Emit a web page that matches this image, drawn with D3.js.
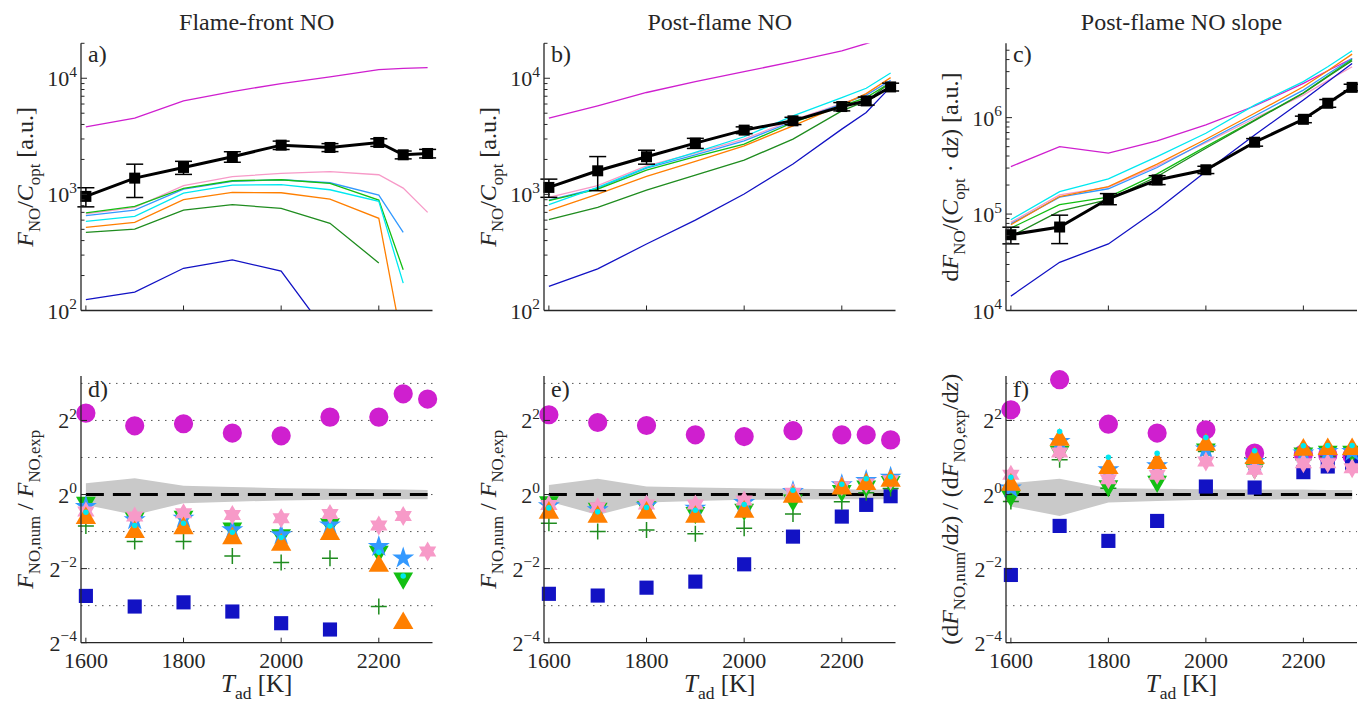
<!DOCTYPE html>
<html>
<head>
<meta charset="utf-8">
<title>NO comparison</title>
<script src="https://cdn.jsdelivr.net/npm/d3@7"></script>
<style>
  body { margin: 0; background: #fff; }
  svg text { font-family: "Liberation Serif", "DejaVu Serif", serif; fill: #262626; }
</style>
</head>
<body>
<script>
// temperatures (x values) and axis ticks
const temps = [1600, 1700, 1800, 1900, 2000, 2100, 2200, 2250, 2300];
const xTicks = [1600, 1800, 2000, 2200];
const titles = ["Flame-front NO", "Post-flame NO", "Post-flame NO slope"];
const letters = ["a)", "b)", "c)", "d)", "e)", "f)"];
const keys = ["mag", "pink", "dblue", "green", "cyan", "orange", "dgreen", "blue"];

// experiment (black squares + error bars)
const frontExp = [961, 1380, 1706, 2110, 2655, 2535, 2800, 2192, 2250];
const frontErr = [180, 440, 220, 220, 220, 200, 210, 170, 190];
const postExp = [1148, 1596, 2110, 2762, 3575, 4300, 5707, 6380, 8420];
const postErr = [205, 520, 290, 275, 240, 310, 470, 510, 650];
const slopeExp = [61100, 73400, 144000, 226000, 288000, 556000, 961000, 1410000, 2060000];
const slopeErr = [12000, 24000, 19000, 24000, 25000, 50000, 75000, 130000, 160000];

// simulated curves, top row
const frontLines = {
  mag:    [3820, 4530, 6380, 7680, 9000, 10270, 11870, 12150, 12350],
  pink:   [678, 773, 1188, 1420, 1517, 1568, 1476, 1133, 700],
  dblue:  [656, 733, 1111, 1295, 1337, 1259, 986, 471, null],
  green:  [692, 789, 1127, 1310, 1337, 1244, 894, 224, null],
  cyan:   [586, 647, 1026, 1202, 1211, 1096, 871, 172, null],
  orange: [520, 574, 900, 1040, 1033, 912, 622, 48, null],
  dgreen: [471, 503, 733, 815, 758, 563, 257, null, null],
  blue:   [124, 144, 231, 273, 218, 59, null, null, null]
};
const postLines = {
  mag:    [4530, 5780, 7540, 9360, 11400, 13900, 17200, 19900, 23000],
  pink:   [942, 1188, 1762, 2265, 2995, 4355, 6050, 7200, 9480],
  dblue:  [894, 1133, 1683, 2192, 2893, 4243, 5980, 7145, 9600],
  green:  [883, 1111, 1618, 2110, 2710, 4160, 5780, 6820, 9180],
  cyan:   [815, 1148, 1706, 2296, 3135, 4742, 6820, 8200, 11100],
  orange: [724, 1007, 1430, 1923, 2618, 3890, 5900, 7380, 10130],
  dgreen: [606, 773, 1088, 1466, 1972, 2995, 5236, 6380, 9180],
  blue:   [161, 228, 374, 601, 1007, 1824, 3648, 5070, 8430]
};
const slopeLines = {
  mag:    [311000, 501000, 428000, 574000, 840000, 1320000, 2270000, 3060000, 4100000],
  pink:   [82000, 158000, 190000, 316000, 551000, 985000, 1710000, 2420000, 3370000],
  dblue:  [79400, 150000, 183000, 304000, 565000, 1040000, 1930000, 2830000, 4110000],
  green:  [71600, 125000, 150000, 261000, 501000, 946000, 1810000, 2700000, 4010000],
  cyan:   [87400, 171000, 232000, 395000, 689000, 1350000, 2360000, 3370000, 4930000],
  orange: [77600, 152000, 193000, 329000, 597000, 1110000, 2090000, 3060000, 4560000],
  dgreen: [58800, 107000, 141000, 245000, 482000, 931000, 1790000, 2660000, 3890000],
  blue:   [14100, 31600, 49000, 111000, 276000, 662000, 1520000, 2360000, 3650000]
};

// ratios num/exp, bottom row
const frontRatio = {
  mag:    [4.59, 3.62, 3.76, 3.16, 3.00, 4.26, 4.26, 6.59, 5.97],
  blue:   [0.150, 0.123, 0.133, 0.112, 0.090, 0.080, null, null, null],
  dgreen: [0.556, 0.415, 0.415, 0.317, 0.280, 0.304, 0.123, null, null],
  green:  [0.861, 0.642, 0.662, 0.532, 0.470, 0.577, 0.344, 0.209, null],
  dblue:  [0.799, 0.622, 0.642, 0.516, 0.470, 0.566, 0.377, 0.304, null],
  pink:   [0.727, 0.662, 0.705, 0.683, 0.642, 0.696, 0.560, 0.670, 0.344],
  orange: [0.642, 0.494, 0.532, 0.441, 0.390, 0.476, 0.263, 0.090, null],
  cyan:   [0.718, 0.560, 0.584, 0.494, 0.447, 0.556, 0.339, 0.218, null]
};
const postRatio = {
  mag:    [4.45, 3.85, 3.64, 3.06, 2.96, 3.30, 3.06, 3.06, 2.78],
  blue:   [0.156, 0.151, 0.175, 0.196, 0.271, 0.455, 0.662, 0.824, 0.969],
  dgreen: [0.584, 0.500, 0.516, 0.479, 0.532, 0.696, 0.872, 1.032, 1.119],
  green:  [0.872, 0.770, 0.794, 0.710, 0.755, 0.899, 1.072, 1.169, 1.268],
  dblue:  [0.809, 0.750, 0.809, 0.774, 0.861, 1.058, 1.198, 1.300, 1.383],
  pink:   [0.824, 0.789, 0.829, 0.829, 0.894, 1.032, 1.169, 1.228, 1.308],
  orange: [0.710, 0.658, 0.710, 0.658, 0.723, 0.957, 1.119, 1.213, 1.291],
  cyan:   [0.779, 0.723, 0.784, 0.746, 0.829, 1.084, 1.213, 1.341, 1.392]
};
const slopeRatio = {
  mag:    [4.88, 8.57, 3.73, 3.16, 3.36, 2.17, 2.14, 2.10, 2.06],
  blue:   [0.222, 0.556, 0.420, 0.610, 1.162, 1.140, 1.520, 1.690, 1.799],
  dgreen: [0.877, 1.915, 1.126, 1.400, 2.238, 1.690, 1.915, 2.038, 2.102],
  green:  [0.975, 2.238, 1.176, 1.275, 2.338, 1.638, 2.169, 2.238, 2.238],
  dblue:  [1.126, 2.698, 1.588, 1.711, 2.338, 1.856, 2.169, 2.238, 2.238],
  pink:   [1.446, 2.196, 1.332, 1.446, 1.856, 1.588, 1.799, 1.799, 1.638],
  orange: [1.198, 2.784, 1.638, 1.799, 2.535, 1.975, 2.309, 2.338, 2.338],
  cyan:   [1.383, 3.256, 2.013, 2.169, 2.910, 2.266, 2.488, 2.503, 2.503]
};

// experimental uncertainty band (grey)
const frontBandHi = [1.236, 1.358, 1.176, 1.150, 1.126, 1.112, 1.105, 1.098, 1.091];
const frontBandLo = [0.824, 0.683, 0.850, 0.875, 0.894, 0.905, 0.916, 0.916, 0.916];
const postBandHi = [1.198, 1.341, 1.162, 1.140, 1.126, 1.112, 1.105, 1.098, 1.098];
const postBandLo = [0.877, 0.683, 0.861, 0.885, 0.905, 0.910, 0.916, 0.916, 0.916];
const slopeBandHi = [1.236, 1.341, 1.126, 1.112, 1.105, 1.100, 1.098, 1.091, 1.091];
const slopeBandLo = [0.799, 0.670, 0.861, 0.885, 0.905, 0.910, 0.916, 0.916, 0.916];

const colors = {
  mag: "#cf1fcf", pink: "#f79ac8", dblue: "#3399ff", green: "#13bf13",
  cyan: "#00e8f0", orange: "#ff7f00", dgreen: "#1f8c1f", blue: "#1212c4"
};

const W = 1358, H = 704;
const cols = [{ l: 81, r: 432.5 }, { l: 544, r: 895.5 }, { l: 1006, r: 1357 }];
const topRow = { t: 43.3, b: 310.5 }, botRow = { t: 376, b: 642.7 };
const axisColor = "#262626";

const svg = d3.select("body").append("svg").attr("width", W).attr("height", H);

function rich(textSel, parts, size) {
  let shift = 0;
  parts.forEach(p => {
    const f = p[1] || "";
    let want = 0, fs = size;
    if (f.includes("b")) { want = size * 0.28; fs = size * 0.7; }
    if (f.includes("p")) { want = -size * 0.42; fs = size * 0.7; }
    const ts = textSel.append("tspan").text(p[0]).attr("font-size", fs);
    if (want !== shift) ts.attr("dy", want - shift);
    if (f.includes("i")) ts.attr("font-style", "italic");
    shift = want;
  });
}

function hexagram(r) {
  const pts = a => d3.range(3).map(k => {
    const ang = (a + k * 120) * Math.PI / 180;
    return [r * Math.cos(ang), r * Math.sin(ang)];
  });
  const tri = p => "M" + p.map(q => q.join(",")).join("L") + "Z";
  return tri(pts(-90)) + tri(pts(90));
}

function axesFrame(g, x, y, left, bottom, top, right) {
  g.append("line").attr("x1", left).attr("x2", left).attr("y1", top).attr("y2", bottom)
    .attr("stroke", axisColor).attr("stroke-width", 1.3);
  g.append("line").attr("x1", left).attr("x2", right).attr("y1", bottom).attr("y2", bottom)
    .attr("stroke", axisColor).attr("stroke-width", 1.3);
  xTicks.forEach(t => {
    g.append("line").attr("x1", x(t)).attr("x2", x(t)).attr("y1", bottom).attr("y2", bottom - 5)
      .attr("stroke", axisColor).attr("stroke-width", 1);
  });
}

// ---------- top row ----------
const topData = [
  { lines: frontLines, exp: frontExp, err: frontErr, dom: [100, 2e4], lo: 2, hi: 4 },
  { lines: postLines, exp: postExp, err: postErr, dom: [100, 2e4], lo: 2, hi: 4 },
  { lines: slopeLines, exp: slopeExp, err: slopeErr, dom: [1e4, 5.9e6], lo: 4, hi: 6 }
];
const ylabTop = [
  [["F", "i"], ["NO", "b"], ["/"], ["C", "i"], ["opt", "b"], [" [a.u.]"]],
  [["F", "i"], ["NO", "b"], ["/"], ["C", "i"], ["opt", "b"], [" [a.u.]"]],
  [["d"], ["F", "i"], ["NO", "b"], ["/("], ["C", "i"], ["opt", "b"], [" \u00b7 d"], ["z", "i"], [") [a.u.]"]]
];

topData.forEach((pd, i) => {
  const c = cols[i];
  const x = d3.scaleLinear().domain([1590, 2310]).range([c.l, c.r]);
  const y = d3.scaleLog().domain(pd.dom).range([topRow.b, topRow.t]);
  const g = svg.append("g");

  svg.append("clipPath").attr("id", "clipT" + i).append("rect")
    .attr("x", c.l).attr("y", topRow.t).attr("width", c.r - c.l).attr("height", topRow.b - topRow.t);

  const line = d3.line().defined(d => d[1] != null).x(d => x(d[0])).y(d => y(d[1]));
  const lg = g.append("g").attr("clip-path", "url(#clipT" + i + ")");
  keys.forEach(k => {
    lg.append("path").datum(temps.map((t, j) => [t, pd.lines[k][j]]))
      .attr("d", line).attr("fill", "none").attr("stroke", colors[k]).attr("stroke-width", 1.3);
  });

  // experiment
  const ex = temps.map((t, j) => [t, pd.exp[j], pd.err[j]]);
  lg.append("path").datum(ex).attr("d", line).attr("fill", "none")
    .attr("stroke", "#000").attr("stroke-width", 3);
  ex.forEach(d => {
    const y1 = y(d[1] + d[2]), y0 = y(d[1] - d[2]), xc = x(d[0]);
    g.append("line").attr("x1", xc).attr("x2", xc).attr("y1", y1).attr("y2", y0)
      .attr("stroke", "#000").attr("stroke-width", 1.5);
    [y0, y1].forEach(yy => g.append("line").attr("x1", xc - 8.5).attr("x2", xc + 8.5)
      .attr("y1", yy).attr("y2", yy).attr("stroke", "#000").attr("stroke-width", 1.5));
    g.append("rect").attr("x", xc - 5.5).attr("y", y(d[1]) - 5.5).attr("width", 11).attr("height", 11)
      .attr("fill", "#000");
  });

  axesFrame(g, x, y, c.l, topRow.b, topRow.t, c.r);
  // log ticks
  for (let e = pd.lo; e <= pd.hi + 1; e++) {
    for (let m = 1; m <= 9; m++) {
      const v = m * Math.pow(10, e);
      if (v < pd.dom[0] || v > pd.dom[1]) continue;
      g.append("line").attr("x1", c.l).attr("x2", c.l + (m === 1 ? 6 : 3.5))
        .attr("y1", y(v)).attr("y2", y(v)).attr("stroke", axisColor).attr("stroke-width", 1);
    }
    if (e <= pd.hi) {
      const t = g.append("text").attr("x", c.l - 4).attr("y", y(Math.pow(10, e)) + 8)
        .attr("text-anchor", "end").attr("font-size", 22);
      rich(t, [["10"], [String(e), "p"]], 22);
    }
  }

  svg.append("text").attr("x", (c.l + c.r) / 2).attr("y", 30).attr("text-anchor", "middle")
    .attr("font-size", 24).attr("fill", "#000").text(titles[i]);
  svg.append("text").attr("x", c.l + 7).attr("y", 62).attr("font-size", 24).text(letters[i]);

  const yl = svg.append("text").attr("text-anchor", "middle").attr("font-size", 24)
    .attr("transform", `translate(${c.l - 48},${(topRow.t + topRow.b) / 2}) rotate(-90)`);
  rich(yl, ylabTop[i], 24);
});

// ---------- bottom row ----------
const botData = [
  { r: frontRatio, hi: frontBandHi, lo: frontBandLo },
  { r: postRatio, hi: postBandHi, lo: postBandLo },
  { r: slopeRatio, hi: slopeBandHi, lo: slopeBandLo }
];
const ylabBot = [
  [["F", "i"], ["NO,num", "b"], [" / "], ["F", "i"], ["NO,exp", "b"]],
  [["F", "i"], ["NO,num", "b"], [" / "], ["F", "i"], ["NO,exp", "b"]],
  [["(d"], ["F", "i"], ["NO,num", "b"], ["/d"], ["z", "i"], [") / (d"], ["F", "i"], ["NO,exp", "b"], ["/d"], ["z", "i"], [")"]]
];
const markerShapes = {
  mag: () => d3.symbol(d3.symbolCircle, 290)(),
  blue: () => d3.symbol(d3.symbolSquare, 200)(),
  dgreen: () => "M-8,0H8M0,-8V8",
  green: () => d3.symbol(d3.symbolTriangle, 170)(),
  dblue: () => d3.symbol(d3.symbolStar, 150)(),
  pink: () => hexagram(10),
  orange: () => d3.symbol(d3.symbolTriangle, 180)(),
  cyan: () => d3.symbol(d3.symbolCircle, 24)()
};

botData.forEach((pd, i) => {
  const c = cols[i];
  const x = d3.scaleLinear().domain([1590, 2310]).range([c.l, c.r]);
  const y = d3.scaleLog().base(2).domain([Math.pow(2, -4), Math.pow(2, 3.2)]).range([botRow.b, botRow.t]);
  const g = svg.append("g");

  // dotted grid
  d3.range(-3, 4).forEach(e => {
    g.append("line").attr("x1", c.l).attr("x2", c.r).attr("y1", y(Math.pow(2, e))).attr("y2", y(Math.pow(2, e)))
      .attr("stroke", "#555").attr("stroke-width", 1).attr("stroke-dasharray", "1.5,5.5");
  });

  // band
  const area = d3.area().x(d => x(d[0])).y0(d => y(d[2])).y1(d => y(d[1]));
  g.append("path").datum(temps.map((t, j) => [t, pd.hi[j], pd.lo[j]]))
    .attr("d", area).attr("fill", "#c9c9c9");
  g.append("line").attr("x1", x(1600)).attr("x2", x(2300)).attr("y1", y(1)).attr("y2", y(1))
    .attr("stroke", "#000").attr("stroke-width", 3).attr("stroke-dasharray", "18,9");

  const order = ["mag", "blue", "dgreen", "green", "dblue", "pink", "orange", "cyan"];
  order.forEach(k => {
    pd.r[k].forEach((v, j) => {
      if (v == null) return;
      const p = g.append("path").attr("d", markerShapes[k]())
        .attr("transform", `translate(${x(temps[j])},${y(v)})` + (k === "green" ? " rotate(180)" : ""));
      if (k === "dgreen") p.attr("fill", "none").attr("stroke", colors[k]).attr("stroke-width", 1.5);
      else p.attr("fill", colors[k]);
    });
  });

  axesFrame(g, x, y, c.l, botRow.b, botRow.t, c.r);
  [-4, -2, 0, 2].forEach(e => {
    g.append("line").attr("x1", c.l).attr("x2", c.l + 6).attr("y1", y(Math.pow(2, e))).attr("y2", y(Math.pow(2, e)))
      .attr("stroke", axisColor).attr("stroke-width", 1);
    const t = g.append("text").attr("x", c.l - 4).attr("y", y(Math.pow(2, e)) + 8)
      .attr("text-anchor", "end").attr("font-size", 22);
    rich(t, [["2"], [e < 0 ? "\u2212" + (-e) : String(e), "p"]], 22);
  });
  xTicks.forEach(t => {
    g.append("text").attr("x", x(t)).attr("y", botRow.b + 25).attr("text-anchor", "middle")
      .attr("font-size", 22).text(t);
  });

  svg.append("text").attr("x", c.l + 7).attr("y", 397).attr("font-size", 24).text(letters[i + 3]);

  const xl = svg.append("text").attr("x", (c.l + c.r) / 2).attr("y", 692)
    .attr("text-anchor", "middle").attr("font-size", 25);
  rich(xl, [["T", "i"], ["ad", "b"], [" [K]"]], 25);

  const yl = svg.append("text").attr("text-anchor", "middle").attr("font-size", 24)
    .attr("transform", `translate(${c.l - 48},${(botRow.t + botRow.b) / 2}) rotate(-90)`);
  rich(yl, ylabBot[i], 24);
});
</script>
</body>
</html>
